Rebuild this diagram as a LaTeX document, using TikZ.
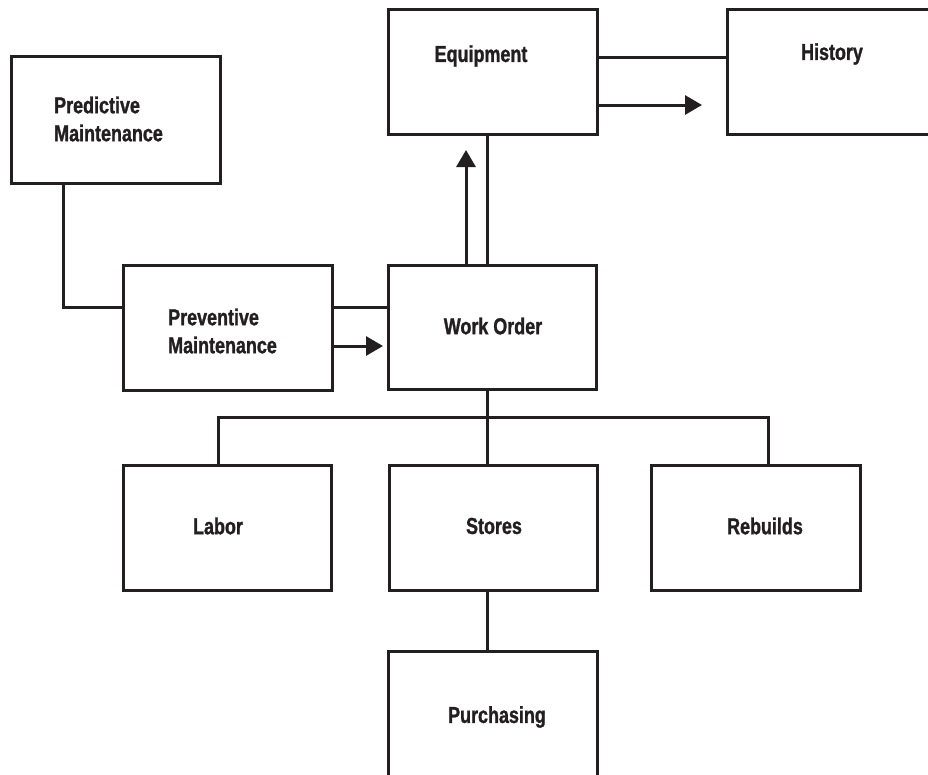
\documentclass[tikz,border=0pt]{standalone}
\usepackage{fontspec}
\setmainfont{Liberation Sans}[FakeStretch=0.78, BoldFeatures={FakeBold=1.2}]
\usetikzlibrary{arrows.meta}
\definecolor{ink}{HTML}{231F20}
\begin{document}
\begin{tikzpicture}[x=1pt,y=1pt,
  box/.style={draw=ink, line width=3pt, rectangle, minimum width=209pt, minimum height=125pt, inner sep=0pt},
  lbl/.style={font=\fontsize{23}{28}\selectfont\bfseries, text=ink, inner sep=0pt},
  conn/.style={draw=ink, line width=3pt},
  arr/.style={conn, -{Triangle[length=17pt,width=19pt]}}]
\useasboundingbox (0,0) rectangle (928,-774);
% boxes
\node[box, minimum height=127pt] (pred) at (115.5,-119.5) {};
\node[box] (equip) at (492.5,-71.5) {};
\node[box] (hist) at (831.5,-71.5) {};
\node[box] (prev) at (227.5,-327.5) {};
\node[box, minimum width=208pt, minimum height=124pt] (wo) at (492,-327) {};
\node[box, minimum width=208pt] (labor) at (227,-527.5) {};
\node[box, minimum width=208pt] (stores) at (493,-527.5) {};
\node[box] (rebuilds) at (755.5,-527.5) {};
\node[box] (purch) at (492.5,-713.5) {};
% labels
\node[lbl, anchor=west, align=left] (predt) at (54,-119) {Predictive\\Maintenance};
\node[lbl, anchor=west, align=left] (prevt) at (168,-331) {Preventive\\Maintenance};
\node[lbl] (equipt) at (481,-56) {Equipment};
\node[lbl] (histt) at (832,-54) {History};
\node[lbl] (wot) at (493,-326) {Work Order};
\node[lbl] (labort) at (218,-526) {Labor};
\node[lbl] (storest) at (494,-526) {Stores};
\node[lbl] (rebuildst) at (765,-526) {Rebuilds};
\node[lbl] (purcht) at (497,-717) {Purchasing};
% helper coordinates
\coordinate (ehl) at (0,-57);
\coordinate (ehtip) at (702,-105);
\coordinate (wev) at (487,0);
\coordinate (wetip) at (466,-150);
\coordinate (pp) at (63,-307);
\coordinate (pwtip) at (383,-346);
\coordinate (busl) at (218,-417);
\coordinate (busm) at (487,-417);
\coordinate (busr) at (768,-417);
% connectors
\draw[conn] (equip.east |- ehl) -- (hist.west |- ehl);
\draw[arr] (equip.east |- ehtip) -- (ehtip);
\draw[conn] (wo.north -| wev) -- (equip.south -| wev);
\draw[arr] (wo.north -| wetip) -- (wetip);
\draw[conn] (pred.south -| pp) -- (pp) -- (prev.west |- pp);
\draw[conn] (prev.east |- pp) -- (wo.west |- pp);
\draw[arr] (prev.east |- pwtip) -- (pwtip);
\draw[conn] (wo.south -| busm) -- (stores.north -| busm);
\draw[conn] (labor.north -| busl) -- (busl) -- (busr) -- (rebuilds.north -| busr);
\draw[conn] (stores.south -| busm) -- (purch.north -| busm);
\end{tikzpicture}
\end{document}
